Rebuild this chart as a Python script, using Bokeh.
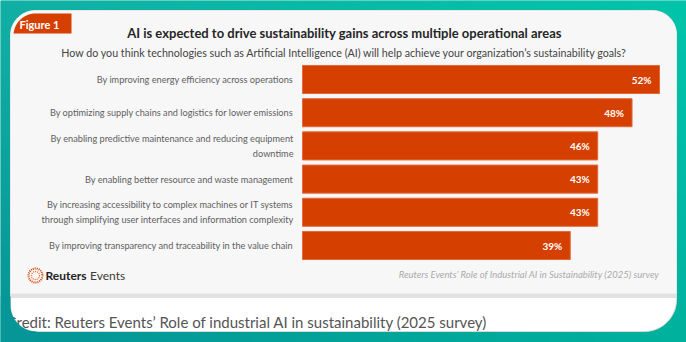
import numpy as np
from bokeh.plotting import figure
from bokeh.models import Range1d
from bokeh.core.properties import value
from bokeh.embed import file_html
from bokeh.resources import INLINE

# ---------------- data ----------------
categories = [
    "By improving energy efficiency across operations",
    "By optimizing supply chains and logistics for lower emissions",
    "By enabling predictive maintenance and reducing equipment\ndowntime",
    "By enabling better resource and waste management",
    "By increasing accessibility to complex machines or IT systems\nthrough simplifying user interfaces and information complexity",
    "By improving transparency and traceability in the value chain",
]
# bar lengths as drawn in the source graphic (third bar is drawn at the 43% length)
bar_values = [52, 48, 43, 43, 43, 39]
value_labels = ["52%", "48%", "46%", "43%", "43%", "39%"]
rows = list(range(len(categories)))

title = "AI is expected to drive sustainability gains across multiple operational areas"
subtitle = "How do you think technologies such as Artificial Intelligence (AI) will help achieve your organization\u2019s sustainability goals?"
tag_text = "Figure 1"
source_text = "Reuters Events\u2019 Role of Industrial AI in Sustainability (2025) survey"
credit_text = "Credit: Reuters Events\u2019 Role of industrial AI in sustainability (2025 survey)"

# ---------------- layout ----------------
W, H = 686, 342
BAR_X0 = 302
PX_PER_PCT = (659 - 302) / 52.0
ROW0, PITCH = 79.0, 33.2
ORANGE = "#D54000"
FONT = "Lato"

TL = np.array([18, 176, 164]); TR = np.array([0, 197, 170])
BL = np.array([6, 148, 150]);  BR = np.array([0, 178, 158])

def teal(fx, fy):
    top = TL * (1 - fx) + TR * fx
    bot = BL * (1 - fx) + BR * fx
    return top * (1 - fy) + bot * fy

def rrect(x0, y0, x1, y1, r_tl, r_tr, r_br, r_bl, n=16):
    xs, ys = [], []
    for (cx, cy, r, a0) in [(x0 + r_tl, y0 + r_tl, r_tl, 180), (x1 - r_tr, y0 + r_tr, r_tr, 270),
                            (x1 - r_br, y1 - r_br, r_br, 0), (x0 + r_bl, y1 - r_bl, r_bl, 90)]:
        a = np.radians(np.linspace(a0, a0 + 90, n))
        xs += list(cx + r * np.cos(a)); ys += list(cy + r * np.sin(a))
    return xs, ys

p = figure(width=W, height=H, x_range=Range1d(0, W), y_range=Range1d(H, 0),
           output_backend="svg", toolbar_location=None, min_border=0,
           x_axis_location=None, y_axis_location=None, outline_line_color=None)
p.grid.visible = False
p.background_fill_color = "#0BB3A2"
p.border_fill_color = "#0BB3A2"
p.extra_x_ranges = {"pct": Range1d(-BAR_X0 / PX_PER_PCT, (W - BAR_X0) / PX_PER_PCT)}
p.extra_y_ranges = {"rows": Range1d((H - ROW0) / PITCH, -ROW0 / PITCH)}

# teal gradient background
ny, nx = 171, 343
fy, fx = np.mgrid[0:1:ny * 1j, 0:1:nx * 1j]
rgb = teal(fx[..., None], fy[..., None]).astype(np.uint32)
img = (255 << 24) | (rgb[..., 2] << 16) | (rgb[..., 1] << 8) | rgb[..., 0]
p.image_rgba(image=[img.astype(np.uint32)], x=0, y=0, dw=W, dh=H)

# card
cx, cy = rrect(10, 10, 676, 331, 25, 24, 32, 26)
p.patch(cx, cy, fill_color="white", line_color="#D9D9D9", line_width=1)
px, py = rrect(10, 10, 676, 293, 25, 24, 0, 0)
p.patch(px, py, fill_color="#F7F7F7", line_color=None)
p.quad(left=[10], right=[676], top=[293], bottom=[297.5], fill_color="#E2E2E2", line_color=None)

# figure tag
tx, ty = rrect(13, 13, 71, 33, 22, 0, 0, 0)
p.patch(tx, ty, fill_color=ORANGE, line_color=None)
p.text(x=[19], y=[23.5], text=[tag_text], text_font=value(FONT), text_font_style="bold",
       text_font_size="11px", text_color="white", text_baseline="middle", text_align="left")

# titles
p.text(x=[344], y=[32], text=[title], text_font=value(FONT), text_font_style="bold",
       text_font_size="13px", text_color="#262626", text_align="center", text_baseline="middle")
p.text(x=[344], y=[51.5], text=[subtitle], text_font=value(FONT),
       text_font_size="10.7px", text_color="#444444", text_align="center", text_baseline="middle")

# bars
p.hbar(y=rows, left=0, right=bar_values, height=0.845, x_range_name="pct", y_range_name="rows",
       fill_color=ORANGE, line_color="#E3683A", line_width=1)
p.text(x=bar_values, y=rows, text=value_labels, x_offset=-8, x_range_name="pct", y_range_name="rows",
       text_font=value(FONT), text_font_style="bold", text_font_size="10px", text_color="white",
       text_align="right", text_baseline="middle")
p.text(x=[293] * len(rows), y=rows, text=categories, y_range_name="rows",
       text_font=value(FONT), text_font_size="9.2px", text_color="#606060",
       text_align="right", text_baseline="middle", text_line_height=1.35)

# footer
p.text(x=[659], y=[274], text=[source_text], text_font=value(FONT), text_font_style="italic",
       text_font_size="9.5px", text_color="#AAAAAA", text_align="right", text_baseline="middle")
p.scatter(x=[35], y=[275], size=14, marker="circle", fill_color=None, line_color=ORANGE,
          line_width=2, line_dash=value("1 1.6"))
p.scatter(x=[35], y=[275], size=8, marker="circle", fill_color=None, line_color="#E86A30",
          line_width=1.3, line_dash=value("1 1.4"))
p.text(x=[45], y=[275], text=["Reuters"], text_font=value(FONT), text_font_style="bold",
       text_font_size="12px", text_color="#222222", text_baseline="middle", text_align="left")
p.text(x=[89.5], y=[275], text=["Events"], text_font=value(FONT),
       text_font_size="12px", text_color="#3A3A3A", text_baseline="middle", text_align="left")

# credit line below card (left edge clipped by the card's rounded corner)
p.text(x=[6], y=[321], text=[credit_text], text_font=value(FONT),
       text_font_size="15px", text_color="#555555", text_baseline="middle", text_align="left")
ax = np.radians(np.linspace(180, 90, 16))
mx = [0, 10] + list(36 + 26 * np.cos(ax)) + [36, 0]
my = [296, 296] + list(305 + 26 * np.sin(ax)) + [342, 342]
mcol = teal(0.02, 0.93).astype(int)
p.patch(mx, my, fill_color="#%02x%02x%02x" % tuple(mcol), line_color=None)

open("out.html", "w").write(file_html(p, INLINE))
